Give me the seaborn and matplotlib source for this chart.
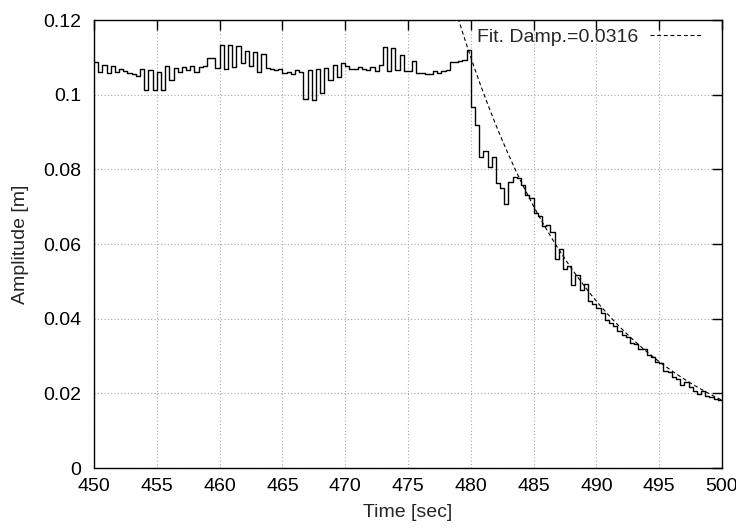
import numpy as np
import pandas as pd
import matplotlib
matplotlib.use("Agg")
import matplotlib.pyplot as plt
from matplotlib.ticker import FormatStrFormatter
import seaborn as sns

# Sampled amplitude, one value every 1/3 s starting at t = 450 s
T_START = 450.0
SAMPLE_DT = 1.0 / 3.0

# Steady forced motion before release (450 s .. 480 s)
amp_before = [
    0.1088, 0.1062, 0.1080, 0.1058, 0.1078, 0.1060, 0.1070, 0.1064, 0.1058, 0.1055,
    0.1050, 0.1068, 0.1012, 0.1066, 0.1013, 0.1062, 0.1013, 0.1077, 0.1040, 0.1072,
    0.1060, 0.1074, 0.1066, 0.1078, 0.1062, 0.1075, 0.1078, 0.1097, 0.1098, 0.1072,
    0.1134, 0.1070, 0.1132, 0.1075, 0.1130, 0.1085, 0.1118, 0.1078, 0.1115, 0.1062,
    0.1108, 0.1072, 0.1070, 0.1065, 0.1068, 0.1058, 0.1062, 0.1055, 0.1065, 0.1060,
    0.0988, 0.1066, 0.0986, 0.1068, 0.1005, 0.1072, 0.1040, 0.1080, 0.1048, 0.1085,
    0.1078, 0.1070, 0.1068, 0.1075, 0.1070, 0.1066, 0.1074, 0.1063, 0.1080, 0.1127,
    0.1063, 0.1124, 0.1065, 0.1107, 0.1063, 0.1063, 0.1091, 0.1058, 0.1058, 0.1056,
    0.1056, 0.1064, 0.1058, 0.1063, 0.1065, 0.1088, 0.1088, 0.1090, 0.1092, 0.1120,
]

# Free decay after release (480 s .. 500 s)
amp_decay = [
    0.0967, 0.0918, 0.0834, 0.0850, 0.0805, 0.0834, 0.0763, 0.0749, 0.0708, 0.0767,
    0.0779, 0.0776, 0.0758, 0.0732, 0.0723, 0.0683, 0.0674, 0.0647, 0.0650, 0.0631,
    0.0561, 0.0587, 0.0532, 0.0542, 0.0490, 0.0516, 0.0478, 0.0493, 0.0447, 0.0440,
    0.0429, 0.0416, 0.0396, 0.0389, 0.0380, 0.0367, 0.0356, 0.0352, 0.0336, 0.0332,
    0.0318, 0.0320, 0.0302, 0.0298, 0.0283, 0.0281, 0.0260, 0.0256, 0.0245, 0.0238,
    0.0223, 0.0231, 0.0216, 0.0207, 0.0198, 0.0207, 0.0194, 0.0189, 0.0185, 0.0183,
]

# Exponential envelope fit: A0 * exp(-zeta * omega * (t - T_RELEASE))
FIT_DAMPING = 0.0316
FIT_OMEGA = 2.85          # rad/s
FIT_A0 = 0.110            # m at release
T_RELEASE = 480.0

x_ticks = [450, 455, 460, 465, 470, 475, 480, 485, 490, 495, 500]
y_ticks = [0, 0.02, 0.04, 0.06, 0.08, 0.1, 0.12]

amp = np.array(amp_before + amp_decay)
t = T_START + SAMPLE_DT * np.arange(len(amp))
# repeat last sample so the final step reaches the end of the record
t = np.append(t, t[-1] + SAMPLE_DT)
amp = np.append(amp, amp[-1])
df = pd.DataFrame({"t": t, "amp": amp})

t_fit = np.linspace(475.0, 500.0, 400)
fit = FIT_A0 * np.exp(-FIT_DAMPING * FIT_OMEGA * (t_fit - T_RELEASE))
df_fit = pd.DataFrame({"t": t_fit, "amp": fit})

sns.set_style("white")
plt.rcParams["font.family"] = ["Liberation Sans", "DejaVu Sans"]

fig = plt.figure(figsize=(7.36, 5.28), dpi=100)
ax = fig.add_axes([0.1277, 0.1136, 0.8533, 0.8485])

sns.lineplot(data=df, x="t", y="amp", ax=ax, estimator=None, sort=False,
             drawstyle="steps-post", color="black", lw=1.0, legend=False)
sns.lineplot(data=df_fit, x="t", y="amp", ax=ax, estimator=None, sort=False,
             color="black", lw=0.8, dashes=False, legend=False)
fit_line = ax.get_lines()[-1]
fit_line.set_linestyle((0, (3.5, 2.5)))
fit_line.set_label(f"Fit. Damp.={FIT_DAMPING}")

ax.set_xlim(450, 500)
ax.set_ylim(0, 0.12)
ax.set_xticks(x_ticks)
ax.set_yticks(y_ticks)
ax.yaxis.set_major_formatter(FormatStrFormatter("%g"))
ax.tick_params(axis="both", direction="in", length=7, width=1.0,
               top=True, right=True, labelsize=14, colors="black")
ax.tick_params(axis="x", pad=7)
ax.tick_params(axis="y", pad=9)
ax.grid(True, color="#a8a8a8", linestyle=(0, (1, 2)), linewidth=0.8)
for s in ax.spines.values():
    s.set_color("black")
    s.set_linewidth(1.0)

ax.set_xlabel("Time [sec]", fontsize=14, labelpad=7)
ax.set_ylabel("Amplitude [m]", fontsize=14, labelpad=10)

ax.legend(handles=[fit_line], loc="upper right", bbox_to_anchor=(0.972, 0.986),
          frameon=False, fontsize=14, markerfirst=False, handlelength=2.7,
          handletextpad=0.6, borderaxespad=0.0, borderpad=0.1)

fig.savefig("out.png", dpi=100)
